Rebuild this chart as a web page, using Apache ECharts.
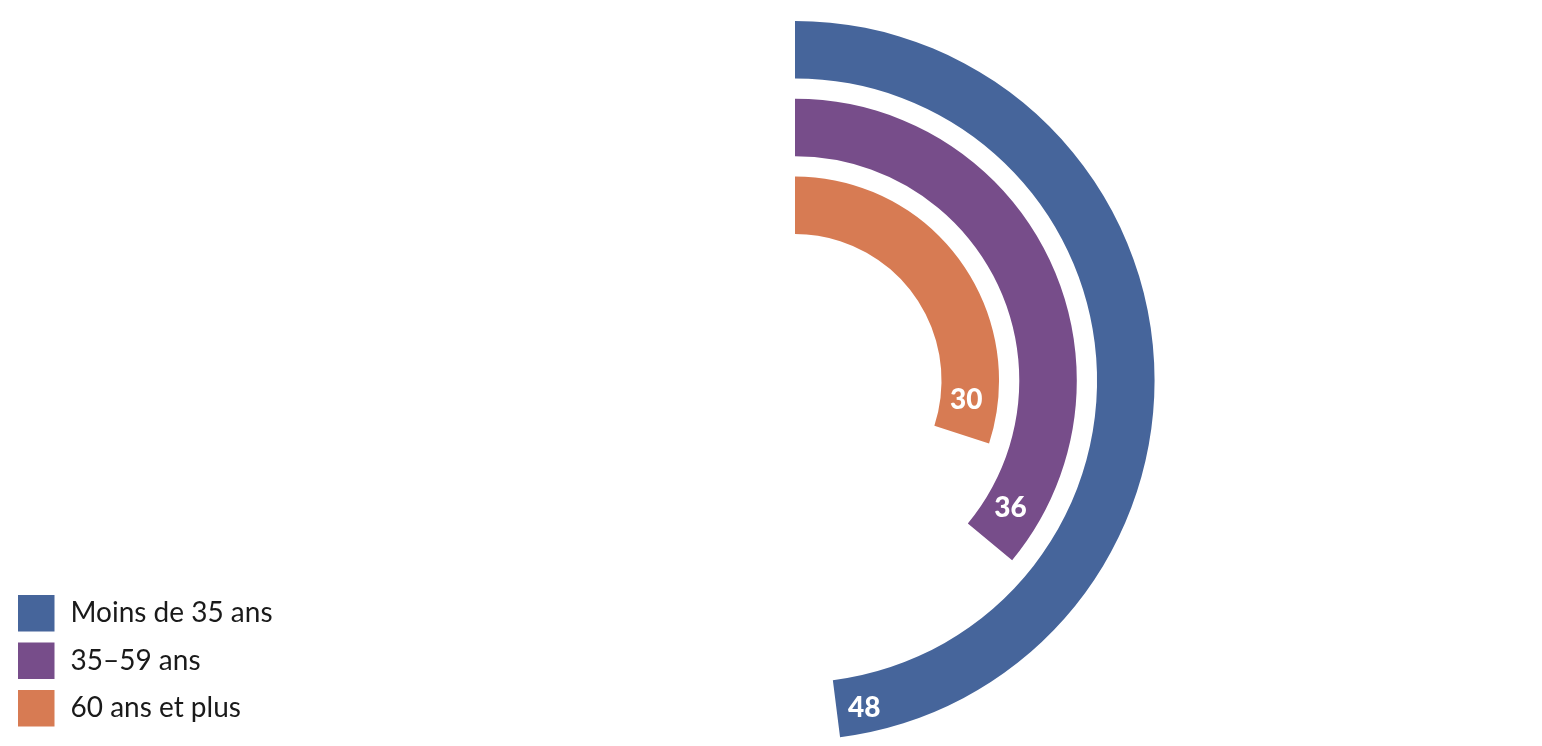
<!DOCTYPE html>
<html><head><meta charset="utf-8">
<script src="https://cdn.jsdelivr.net/npm/echarts@6/dist/echarts.min.js"></script>
<style>html,body{margin:0;padding:0;background:#fff}#c{width:1542px;height:746px}</style>
</head><body><div id="c"></div>
<script>
// categories from inner ring to outer ring
const categories = ['60 ans et plus', '35–59 ans', 'Moins de 35 ans'];
const values = [30, 36, 48];
const colors = ['#D77B53', '#774D8A', '#46659B'];
const legendOrder = ['Moins de 35 ans', '35–59 ans', '60 ans et plus'];
const labelDistances = [37, 40, 27];
const labelOffsets = [[-7, 0], [-5, -3], [1, 3]];

const series = categories.map((name, i) => ({
  type: 'bar',
  coordinateSystem: 'polar',
  name: name,
  stack: 'all',
  barWidth: 57.5,
  itemStyle: { color: colors[i] },
  data: categories.map((c, j) => (j === i ? values[i] : null)),
  label: {
    show: true,
    position: 'insideEnd',
    rotate: 0,
    align: 'center',
    verticalAlign: 'middle',
    distance: labelDistances[i],
    offset: labelOffsets[i],
    color: '#fff',
    fontFamily: 'Lato',
    fontWeight: 900,
    fontSize: 28
  },
  emphasis: { disabled: true }
}));

const chart = echarts.init(document.getElementById('c'), null, { renderer: 'canvas' });
chart.setOption({
  animation: false,
  polar: { center: [795, 380.5], radius: [136.4, 369.7] },
  angleAxis: { type: 'value', min: 0, max: 100, startAngle: 90, clockwise: true, show: false },
  radiusAxis: { type: 'category', data: categories, show: false },
  legend: {
    data: legendOrder,
    orient: 'vertical',
    left: 18,
    top: 595,
    padding: 0,
    icon: 'rect',
    itemWidth: 36.5,
    itemHeight: 36.5,
    itemGap: 11,
    selectedMode: false,
    textStyle: { fontFamily: 'Lato', fontSize: 28, color: '#1a1a1a', padding: [10, 0, 0, 11] }
  },
  series: series
});
</script></body></html>
